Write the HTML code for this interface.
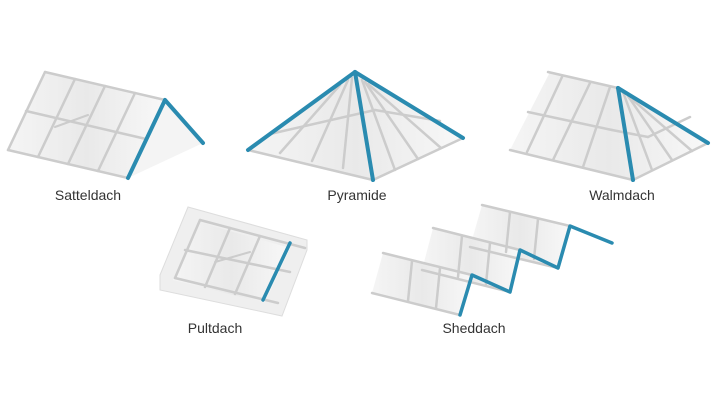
<!DOCTYPE html>
<html><head><meta charset="utf-8"><style>
html,body{margin:0;padding:0;background:#fff;}
svg{display:block}
text{font-family:"Liberation Sans",sans-serif;font-size:14px;fill:#333;text-anchor:middle}
</style></head><body>
<svg width="715" height="400" viewBox="0 0 715 400">
<defs>
<linearGradient id="g" x1="0" y1="0" x2="1" y2="0"><stop offset="0" stop-color="#f5f5f5"/><stop offset="0.5" stop-color="#e9e9e9"/><stop offset="1" stop-color="#f8f8f8"/></linearGradient>
</defs>
<g stroke="#cccccc" stroke-width="2.5" fill="none" stroke-linecap="round">
<!-- Satteldach -->
<polygon points="45,72 165,100 128,178 8,150" fill="url(#g)" stroke="none"/>
<polygon points="165,100 203,143 128,178" fill="#f4f4f4" stroke="none"/>
<line x1="45" y1="72" x2="165" y2="100"/>
<line x1="8" y1="150" x2="128" y2="178"/>
<line x1="26" y1="111" x2="146" y2="139"/>
<line x1="45" y1="72" x2="8" y2="150"/>
<line x1="75" y1="79" x2="38" y2="157"/>
<line x1="105" y1="86" x2="68" y2="164"/>
<line x1="135" y1="93" x2="98" y2="171"/>
<line x1="55" y1="127" x2="88" y2="115" stroke-width="2"/>
<line x1="165" y1="100" x2="203" y2="143" stroke="#2a8bb0" stroke-width="4"/>
<line x1="165" y1="100" x2="128" y2="178" stroke="#2a8bb0" stroke-width="4"/>
<!-- Pyramide -->
<polygon points="355,72 248,150 373,180 463,138" fill="url(#g)" stroke="none"/>
<line x1="248" y1="150" x2="373" y2="180"/>
<line x1="373" y1="180" x2="463" y2="138"/>
<line x1="270" y1="134" x2="375" y2="110"/>
<line x1="375" y1="110" x2="440" y2="121"/>
<line x1="280" y1="153" x2="340" y2="85"/>
<line x1="312" y1="161" x2="348" y2="80"/>
<line x1="343" y1="168" x2="352" y2="78"/>
<line x1="395" y1="170" x2="362" y2="80"/>
<line x1="418" y1="159" x2="365" y2="82"/>
<line x1="441" y1="148" x2="368" y2="84"/>
<line x1="355" y1="72" x2="248" y2="150" stroke="#2a8bb0" stroke-width="4"/>
<line x1="355" y1="72" x2="373" y2="180" stroke="#2a8bb0" stroke-width="4"/>
<line x1="355" y1="72" x2="463" y2="138" stroke="#2a8bb0" stroke-width="4"/>
<!-- Walmdach -->
<polygon points="550,72 618,88 708,143 633,180 510,150" fill="url(#g)" stroke="none"/>
<line x1="548" y1="72" x2="618" y2="88"/>
<line x1="510" y1="150" x2="633" y2="180"/>
<line x1="633" y1="180" x2="708" y2="143"/>
<line x1="528" y1="112" x2="570" y2="121"/>
<line x1="570" y1="121" x2="612" y2="130"/>
<line x1="612" y1="130" x2="648" y2="137"/>
<line x1="648" y1="137" x2="690" y2="117"/>
<line x1="562" y1="77" x2="527" y2="152"/>
<line x1="590" y1="83" x2="553" y2="160"/>
<line x1="610" y1="87" x2="583" y2="167"/>
<line x1="652" y1="170" x2="623" y2="92"/>
<line x1="672" y1="160" x2="628" y2="96"/>
<line x1="692" y1="151" x2="633" y2="100"/>
<line x1="618" y1="88" x2="633" y2="180" stroke="#2a8bb0" stroke-width="4"/>
<line x1="618" y1="88" x2="708" y2="143" stroke="#2a8bb0" stroke-width="4"/>
<!-- Pultdach -->
<polygon points="188,207 307,240 307,250 282,316 160,290 160,275" fill="#efefef" stroke="#dddddd" stroke-width="1"/>
<polygon points="198,222 290,248 265,303 173,280" fill="url(#g)" stroke="none"/>
<line x1="200" y1="220" x2="305" y2="248"/>
<line x1="175" y1="278" x2="278" y2="303"/>
<line x1="185" y1="250" x2="290" y2="272"/>
<line x1="200" y1="220" x2="175" y2="278"/>
<line x1="230" y1="228" x2="205" y2="287"/>
<line x1="260" y1="236" x2="235" y2="294"/>
<line x1="215" y1="262" x2="250" y2="252" stroke-width="2"/>
<line x1="290" y1="243" x2="263" y2="300" stroke="#2a8bb0" stroke-width="3.5"/>
<!-- Sheddach -->
<polygon points="482,205 570,226 558,268 470,247" fill="url(#g)" stroke="none"/>
<polygon points="433,228 520,250 510,292 422,270" fill="url(#g)" stroke="none"/>
<polygon points="383,253 472,275 460,315 372,293" fill="url(#g)" stroke="none"/>
<line x1="482" y1="205" x2="570" y2="226"/>
<line x1="470" y1="247" x2="558" y2="268"/>
<line x1="433" y1="228" x2="520" y2="250"/>
<line x1="422" y1="270" x2="510" y2="292"/>
<line x1="383" y1="253" x2="472" y2="275"/>
<line x1="372" y1="293" x2="460" y2="315"/>
<line x1="510" y1="212" x2="506" y2="252"/>
<line x1="538" y1="219" x2="534" y2="259"/>
<line x1="462" y1="236" x2="458" y2="277"/>
<line x1="490" y1="243" x2="486" y2="284"/>
<line x1="412" y1="261" x2="408" y2="301"/>
<line x1="440" y1="268" x2="436" y2="308"/>
<polyline points="460,315 472,275 510,292 520,250 558,268 570,226 612,243" stroke="#2a8bb0" stroke-width="3.5" stroke-linejoin="round"/>
</g>
<text x="88" y="200">Satteldach</text>
<text x="357" y="200">Pyramide</text>
<text x="622" y="200">Walmdach</text>
<text x="215" y="333">Pultdach</text>
<text x="474" y="333">Sheddach</text>
</svg>
</body></html>
